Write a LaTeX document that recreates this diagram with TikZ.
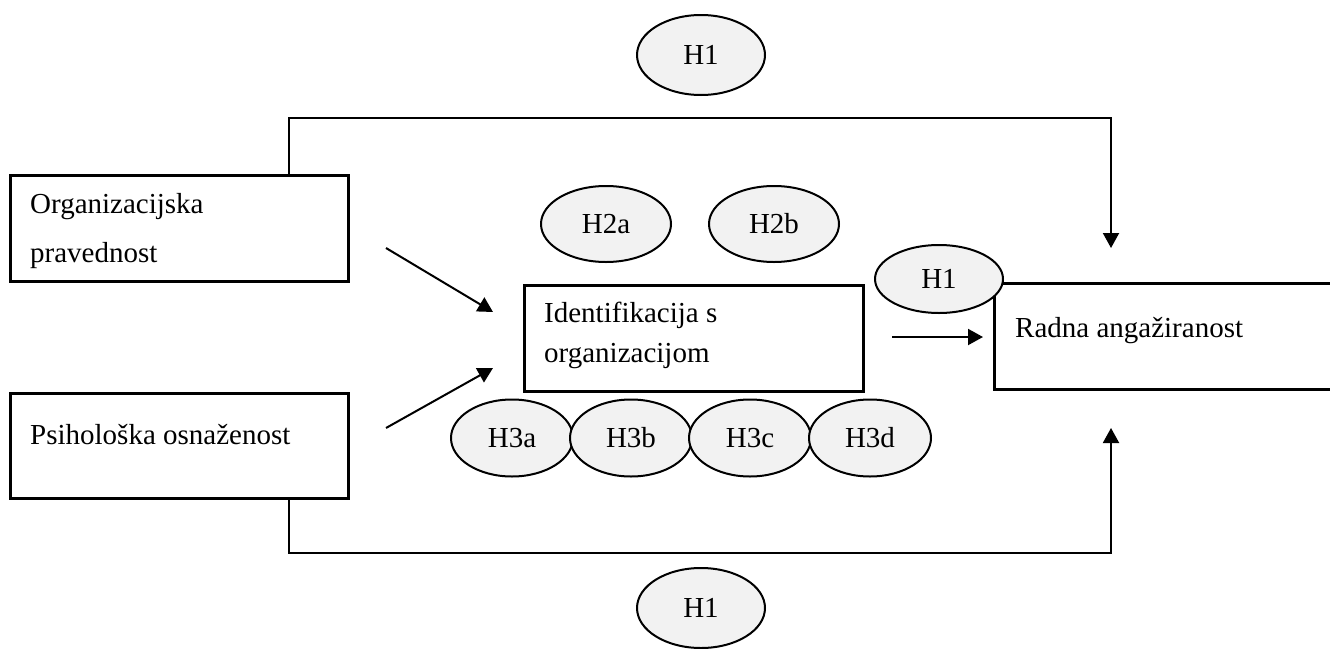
\documentclass[tikz,border=0pt]{standalone}
\usepackage{fontspec}
\setmainfont{Liberation Serif}
\usetikzlibrary{arrows.meta,shapes.geometric}
\definecolor{efill}{HTML}{F2F2F2}
\tikzset{
  box/.style={draw, line width=2.7pt, inner sep=0pt, anchor=north west},
  hyp/.style={ellipse, draw, line width=2pt, fill=efill, inner sep=0pt},
  conn/.style={line width=2pt},
  arr/.style={conn, -{Triangle[length=15pt,width=16pt]}},
  txt/.style={anchor=base west, inner sep=0pt}
}
\begin{document}
\begin{tikzpicture}[x=1pt,y=-1pt, font=\fontsize{29}{36}\selectfont]
\clip (0,0) rectangle (1330,648);
% boxes
\node[box, minimum width=338pt, minimum height=106pt] (org) at (9,174) {};
\node[box, minimum width=338pt, minimum height=105pt] (psi) at (9,392) {};
\node[box, minimum width=339pt, minimum height=106pt] (ident) at (523,284) {};
\node[box, minimum width=400pt, minimum height=106pt] (radna) at (993,282) {};
% texts
\node[txt] (orgt1) at (30,213) {Organizacijska};
\node[txt] (orgt2) at (30,262) {pravednost};
\node[txt] (psit) at (30,444) {Psihološka osnaženost};
\node[txt] (identt1) at (544,322) {Identifikacija s};
\node[txt] (identt2) at (544,362) {organizacijom};
\node[txt] (radnat) at (1015,337) {Radna angažiranost};
% hypotheses
\node[hyp, minimum width=128pt, minimum height=80pt] (h1top) at (701,55) {H1};
\node[hyp, minimum width=128pt, minimum height=80pt] (h1bot) at (701,608) {H1};
\node[hyp, minimum width=128pt, minimum height=68pt] (h1mid) at (939,279) {H1};
\node[hyp, minimum width=130pt, minimum height=76pt] (h2a) at (606,224) {H2a};
\node[hyp, minimum width=130pt, minimum height=76pt] (h2b) at (774,224) {H2b};
\node[hyp, minimum width=122pt, minimum height=77pt] (h3a) at (512,438) {H3a};
\node[hyp, minimum width=122pt, minimum height=77pt] (h3b) at (631,438) {H3b};
\node[hyp, minimum width=122pt, minimum height=77pt] (h3c) at (750,438) {H3c};
\node[hyp, minimum width=122pt, minimum height=77pt] (h3d) at (870,438) {H3d};
% connectors
\coordinate (tl) at (289,118);
\coordinate (tr) at (1111,118);
\coordinate (ttip) at (1111,248);
\coordinate (bl) at (289,553);
\coordinate (br) at (1111,553);
\coordinate (btip) at (1111,428);
\draw[arr] (tl |- org.north) -- (tl) -- (tr) -- (ttip);
\draw[arr] (bl |- psi.south) -- (bl) -- (br) -- (btip);
\coordinate (a1s) at (386,248);
\coordinate (a1e) at (493,312);
\coordinate (a2s) at (386,428);
\coordinate (a2e) at (493,368);
\coordinate (a3s) at (892,337);
\coordinate (a3e) at (983,337);
\draw[arr] (a1s) -- (a1e);
\draw[arr] (a2s) -- (a2e);
\draw[arr] (a3s) -- (a3e);
\end{tikzpicture}
\end{document}
